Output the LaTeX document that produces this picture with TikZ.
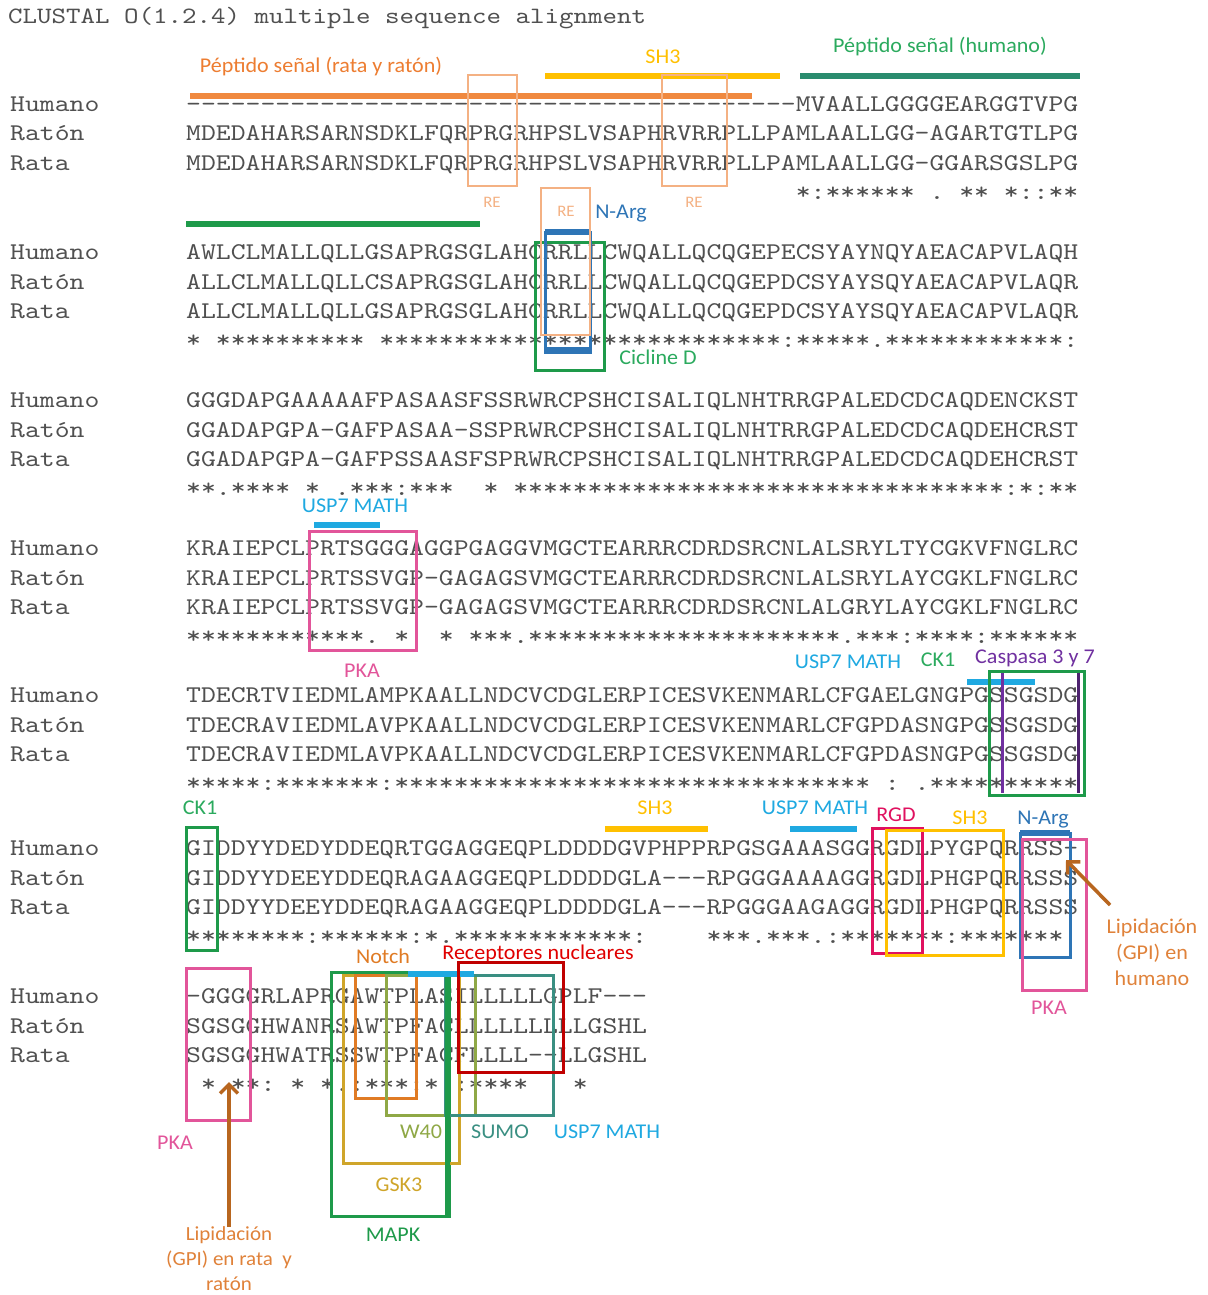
\documentclass[tikz,border=0pt]{standalone}
\usepackage{fontspec}
\setmonofont{lmmono10-regular}[Extension=.otf, FakeStretch=1.18]
\newfontfamily\lab{Carlito}[FakeStretch=1.05]
\usetikzlibrary{arrows.meta}
\definecolor{seqgray}{HTML}{505050}
\definecolor{orA}{HTML}{ED7D31}
\definecolor{orBar}{HTML}{F0893F}
\definecolor{reOr}{HTML}{F4B183}
\definecolor{goldA}{HTML}{FFC000}
\definecolor{tealG}{HTML}{2A8C6E}
\definecolor{grn}{HTML}{1E9A4A}
\definecolor{grnL}{HTML}{2BAA5E}
\definecolor{nblue}{HTML}{2E75B6}
\definecolor{lblue}{HTML}{1FA9E1}
\definecolor{pinkA}{HTML}{E2559A}
\definecolor{purp}{HTML}{7030A0}
\definecolor{crim}{HTML}{E0115F}
\definecolor{lipOr}{HTML}{E0823A}
\definecolor{brownA}{HTML}{B8661F}
\definecolor{notchOr}{HTML}{E07B24}
\definecolor{redA}{HTML}{E00000}
\definecolor{redB}{HTML}{C00000}
\definecolor{gsk}{HTML}{CFA52A}
\definecolor{oliveA}{HTML}{8FA846}
\definecolor{sumo}{HTML}{3A8F82}
\tikzset{
  seq/.style={anchor=base west, inner sep=0pt, text=seqgray,
    font=\ttfamily\frenchspacing\fontsize{24}{24}\selectfont},
  lbl/.style={inner sep=0pt, font=\lab\fontsize{21}{26}\selectfont, align=center},
  smlbl/.style={inner sep=0pt, font=\lab\fontsize{16}{18}\selectfont},
  bar/.style={line width=6pt},
  boxA/.style={line width=3pt},
  garrow/.style={draw=brownA, line width=3.5pt, -{Straight Barb[length=9pt,width=18pt]}},
}
\newcommand\alnblock[6]{%
  \node[seq] (#1nh) at (10,#2+7.5) {Humano};
  \node[seq] (#1nr) at (10,#2+37) {Ratón};
  \node[seq] (#1nt) at (10,#2+66.5) {Rata};
  \node[seq] (#1sh) at (186,#2+7.5) {#3};
  \node[seq] (#1sr) at (186,#2+37) {#4};
  \node[seq] (#1st) at (186,#2+66.5) {#5};
  \node[seq] (#1sc) at (186,#2+95) {#6};
}
\begin{document}
\begin{tikzpicture}[x=1pt,y=-1pt]
\fill[white] (0,0) rectangle (1207,1295);
\useasboundingbox (0,0) rectangle (1207,1295);

\node[seq, font=\ttfamily\fontsize{23.4}{23.4}\selectfont] (title) at (8,23.5) {CLUSTAL~O(1.2.4)~multiple~sequence~alignment};

% ---- alignment text ----
\alnblock{a}{104}
 {-----------------------------------------MVAALLGGGGEARGGTVPG}
 {MDEDAHARSARNSDKLFQRPRGRHPSLVSAPHRVRRPLLPAMLAALLGG-AGARTGTLPG}
 {MDEDAHARSARNSDKLFQRPRGRHPSLVSAPHRVRRPLLPAMLAALLGG-GGARSGSLPG}
 {~~~~~~~~~~~~~~~~~~~~~~~~~~~~~~~~~~~~~~~~~*:******~.~**~*::**}
\alnblock{b}{252}
 {AWLCLMALLQLLGSAPRGSGLAHCRRLLCWQALLQCQGEPECSYAYNQYAEACAPVLAQH}
 {ALLCLMALLQLLCSAPRGSGLAHCRRLLCWQALLQCQGEPDCSYAYSQYAEACAPVLAQR}
 {ALLCLMALLQLLGSAPRGSGLAHCRRLLCWQALLQCQGEPDCSYAYSQYAEACAPVLAQR}
 {*~**********~***************************:*****.************:}
\alnblock{c}{400}
 {GGGDAPGAAAAAFPASAASFSSRWRCPSHCISALIQLNHTRRGPALEDCDCAQDENCKST}
 {GGADAPGPA-GAFPASAA-SSPRWRCPSHCISALIQLNHTRRGPALEDCDCAQDEHCRST}
 {GGADAPGPA-GAFPSSAASFSPRWRCPSHCISALIQLNHTRRGPALEDCDCAQDEHCRST}
 {**.****~*~.***:***~~*~*********************************:*:**}
\alnblock{d}{548}
 {KRAIEPCLPRTSGGGAGGPGAGGVMGCTEARRRCDRDSRCNLALSRYLTYCGKVFNGLRC}
 {KRAIEPCLPRTSSVGP-GAGAGSVMGCTEARRRCDRDSRCNLALSRYLAYCGKLFNGLRC}
 {KRAIEPCLPRTSSVGP-GAGAGSVMGCTEARRRCDRDSRCNLALGRYLAYCGKLFNGLRC}
 {************.~*~~*~***.*********************.***:****:******}
\alnblock{e}{695}
 {TDECRTVIEDMLAMPKAALLNDCVCDGLERPICESVKENMARLCFGAELGNGPGSSGSDG}
 {TDECRAVIEDMLAVPKAALLNDCVCDGLERPICESVKENMARLCFGPDASNGPGSSGSDG}
 {TDECRAVIEDMLAVPKAALLNDCVCDGLERPICESVKENMARLCFGPDASNGPGSSGSDG}
 {*****:*******:********************************~:~.**********}
\alnblock{f}{848}
 {GIDDYYDEDYDDEQRTGGAGGEQPLDDDDGVPHPPRPGSGAAASGGRGDLPYGPQRRSS-}
 {GIDDYYDEEYDDEQRAGAAGGEQPLDDDDGLA---RPGGGAAAAGGRGDLPHGPQRRSSS}
 {GIDDYYDEEYDDEQRAGAAGGEQPLDDDDGLA---RPGGGAAGAGGRGDLPHGPQRRSSS}
 {********:******:*.************:~~~~***.***.:*******:*******~}
\alnblock{g}{996}
 {-GGGGRLAPRGAWTPLASILLLLLGPLF---}
 {SGSGGHWANRSAWTPFACLLLLLLLLLGSHL}
 {SGSGGHWATRSSWTPFACFLLLL--LLGSHL}
 {~*~**:~*~*.:***:*~:****~~~*}

% ---- block 1 annotations ----
\node[lbl, text=orA] (lPSr) at (321,67) {Péptido señal (rata y ratón)};
\node[lbl, text=goldA] (lSH3a) at (663,57) {SH3};
\node[lbl, text=grnL] (lPSh) at (940,47) {Péptido señal (humano)};
\draw[bar, orBar] (190,96) -- (752,96);
\draw[bar, goldA] (545,76) -- (780,76);
\draw[bar, tealG] (800,76) -- (1080,76);
\draw[boxA, reOr, line width=2.5pt] (468,75) rectangle (517,186);
\draw[boxA, reOr, line width=2.5pt] (662,75) rectangle (727,186);
\node[smlbl, text=reOr] (lRE1) at (492,202) {RE};
\node[smlbl, text=reOr] (lRE2) at (694,202) {RE};

% ---- block 2 annotations ----
\draw[bar, grn] (186,224) -- (480,224);
\draw[boxA, grn] (535,242) rectangle (604,370);
\draw[boxA, nblue] (545,232) rectangle (590,352);
\draw[bar, nblue] (545,232) -- (590,232);
\draw[bar, nblue] (545,350) -- (590,350);
\draw[boxA, reOr, line width=2.5pt] (541,188) rectangle (590,335);
\node[smlbl, text=reOr] (lRE3) at (566,211) {RE};
\node[lbl, text=nblue] (lNA1) at (621,214) {N-Arg};
\node[lbl, text=grnL] (lCD) at (658,357) {Cicline D};

% ---- block 4 annotations ----
\node[lbl, text=lblue] (lU1) at (355,506) {USP7 MATH};
\draw[bar, lblue] (314,525) -- (380,525);
\draw[boxA, pinkA] (309,531) rectangle (416,650);
\node[lbl, text=pinkA] (lPKA1) at (362,671) {PKA};

% ---- block 5 annotations ----
\node[lbl, text=lblue] (lU2) at (848,662) {USP7 MATH};
\node[lbl, text=grnL] (lCK1a) at (938,660) {CK1};
\node[lbl, text=purp] (lCasp) at (1035,658) {Caspasa 3 y 7};
\draw[bar, lblue] (967,682) -- (1035,682);
\draw[boxA, grn] (989,671) rectangle (1084,795);
\draw[boxA, purp] (1002,673) -- (1002,793);
\draw[boxA, purp!70!black] (1078,673) -- (1078,793);

% ---- block 6 annotations ----
\node[lbl, text=grnL] (lCK1b) at (200,808) {CK1};
\draw[boxA, grn] (186,827) rectangle (217,950);
\node[lbl, text=goldA] (lSH3b) at (655,808) {SH3};
\draw[bar, goldA] (605,829) -- (708,829);
\node[lbl, text=lblue] (lU3) at (815,808) {USP7 MATH};
\draw[bar, lblue] (790,829) -- (857,829);
\node[lbl, text=crim] (lRGD) at (896,815) {RGD};
\draw[boxA, crim] (872,828) rectangle (922,953);
\node[lbl, text=goldA] (lSH3c) at (970,818) {SH3};
\draw[boxA, goldA] (886,830) rectangle (1003,955);
\node[lbl, text=nblue] (lNA2) at (1043,820) {N-Arg};
\draw[boxA, nblue] (1020,833) rectangle (1070,957);
\draw[bar, nblue] (1020,833) -- (1070,833);
\draw[boxA, pinkA] (1022,839) rectangle (1086,990);
\node[lbl, text=pinkA] (lPKA2) at (1049,1008) {PKA};
\node[lbl, text=lipOr] (lipH) at (1152,952) {Lipidación\\(GPI) en\\humano};
\coordinate (lipHs) at (1110,905);
\coordinate (lipHt) at (1066,860);
\draw[garrow] (lipHs) -- (lipHt);

% ---- block 7 annotations ----
\node[lbl, text=notchOr] (lNotch) at (383,956) {Notch};
\node[lbl, text=redA] (lRN) at (538,954) {Receptores nucleares};
\draw[boxA, pinkA] (186,968) rectangle (250,1120);
\node[lbl, text=pinkA] (lPKA3) at (175,1143) {PKA};
\draw[boxA, grn] (331,972) rectangle (449,1216);
\draw[boxA, gsk] (343,975) rectangle (459,1163);
\draw[boxA, notchOr] (355,975) rectangle (416,1098);
\draw[boxA, oliveA] (386,975) rectangle (475,1115);
\draw[boxA, sumo] (445,975) rectangle (553,1115);
\draw[boxA, grn, line width=5pt] (447,975) -- (447,1216);
\draw[bar, lblue] (408,974) -- (474,974);
\draw[boxA, redB] (458,962) rectangle (563,1072);
\node[lbl, text=oliveA] (lW40) at (421,1132) {W40};
\node[lbl, text=sumo] (lSUMO) at (500,1132) {SUMO};
\node[lbl, text=lblue] (lU4) at (607,1132) {USP7 MATH};
\node[lbl, text=gsk] (lGSK) at (399,1185) {GSK3};
\node[lbl, text=grn] (lMAPK) at (393,1235) {MAPK};
\node[lbl, text=lipOr, font=\lab\fontsize{20}{25}\selectfont] (lipR) at (229,1259) {Lipidación\\(GPI) en rata~ y\\ratón};
\coordinate (lipRt) at (229,1082);
\draw[garrow] (lipR.north) -- (lipRt);
\end{tikzpicture}
\end{document}
